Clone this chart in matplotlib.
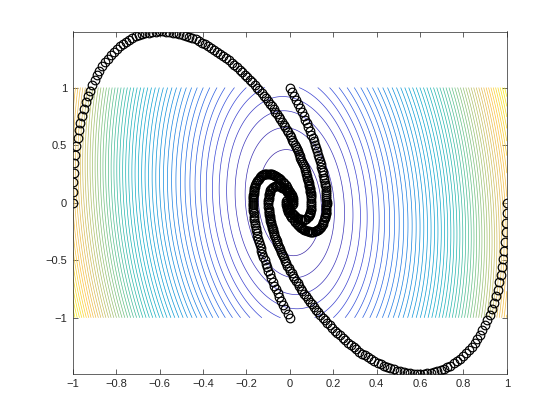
import matplotlib
matplotlib.use('Agg')
import matplotlib.pyplot as plt
import numpy as np
from matplotlib.colors import LinearSegmentedColormap

# quadratic surface drawn as contours (coefficients)
quad_xx = 5.588
quad_xy = 0.4
quad_yy = 0.557
n_levels = 55

# trajectory starting at (-1, 0)
arm_a_x = [
    -1.000, -0.999, -0.998, -0.995, -0.993, -0.988, -0.984, -0.978, -0.972, -0.965,
    -0.958, -0.949, -0.941, -0.931, -0.921, -0.911, -0.900, -0.888, -0.877, -0.864,
    -0.852, -0.839, -0.826, -0.812, -0.798, -0.784, -0.770, -0.755, -0.740, -0.725,
    -0.711, -0.695, -0.680, -0.665, -0.649, -0.633, -0.618, -0.602, -0.587, -0.571,
    -0.556, -0.540, -0.525, -0.509, -0.494, -0.479, -0.464, -0.449, -0.434, -0.419,
    -0.405, -0.390, -0.375, -0.361, -0.348, -0.334, -0.320, -0.307, -0.294, -0.280,
    -0.267, -0.255, -0.243, -0.230, -0.218, -0.207, -0.195, -0.184, -0.172, -0.162,
    -0.151, -0.141, -0.130, -0.121, -0.111, -0.102, -0.092, -0.084, -0.075, -0.067,
    -0.058, -0.051, -0.043, -0.036, -0.028, -0.021, -0.015, -0.008, -0.001, 0.005,
    0.011, 0.016, 0.022, 0.027, 0.032, 0.036, 0.041, 0.045, 0.049, 0.053,
    0.058, 0.061, 0.064, 0.068, 0.071, 0.074, 0.076, 0.079, 0.081, 0.083,
    0.085, 0.087, 0.089, 0.090, 0.092, 0.093, 0.094, 0.095, 0.096, 0.097,
    0.098, 0.099, 0.099, 0.099, 0.099, 0.098, 0.098, 0.096, 0.095, 0.093,
    0.091, 0.089, 0.087, 0.082, 0.076, 0.070, 0.064, 0.058, 0.052, 0.046,
    0.040, 0.034, 0.029, 0.024, 0.019, 0.015, 0.011, 0.003, -0.003, -0.007,
    -0.009, -0.010]
arm_a_y = [
    0.000, 0.089, 0.177, 0.259, 0.341, 0.416, 0.492, 0.561, 0.630, 0.693,
    0.757, 0.814, 0.871, 0.923, 0.974, 1.020, 1.067, 1.108, 1.148, 1.184,
    1.220, 1.251, 1.282, 1.309, 1.335, 1.357, 1.379, 1.397, 1.415, 1.430,
    1.444, 1.454, 1.464, 1.471, 1.478, 1.482, 1.486, 1.487, 1.487, 1.485,
    1.483, 1.478, 1.473, 1.466, 1.459, 1.449, 1.439, 1.428, 1.418, 1.404,
    1.390, 1.376, 1.362, 1.345, 1.328, 1.311, 1.294, 1.275, 1.256, 1.236,
    1.217, 1.196, 1.175, 1.154, 1.133, 1.111, 1.089, 1.067, 1.045, 1.022,
    0.999, 0.976, 0.953, 0.930, 0.907, 0.883, 0.860, 0.837, 0.814, 0.791,
    0.768, 0.746, 0.723, 0.701, 0.678, 0.656, 0.634, 0.612, 0.590, 0.569,
    0.548, 0.526, 0.505, 0.485, 0.465, 0.445, 0.425, 0.406, 0.388, 0.369,
    0.350, 0.333, 0.315, 0.298, 0.280, 0.264, 0.248, 0.232, 0.216, 0.201,
    0.187, 0.172, 0.157, 0.144, 0.131, 0.117, 0.104, 0.092, 0.081, 0.069,
    0.057, 0.037, 0.016, -0.002, -0.020, -0.036, -0.051, -0.064, -0.077, -0.088,
    -0.098, -0.107, -0.115, -0.128, -0.138, -0.144, -0.147, -0.147, -0.146, -0.142,
    -0.138, -0.131, -0.124, -0.116, -0.108, -0.099, -0.090, -0.067, -0.046, -0.027,
    -0.013, 0.007]

# trajectory starting at (0, 1)
arm_b_x = [
    0.000, 0.010, 0.020, 0.030, 0.039, 0.048, 0.056, 0.064, 0.072, 0.079,
    0.086, 0.093, 0.099, 0.105, 0.111, 0.116, 0.122, 0.126, 0.131, 0.135,
    0.139, 0.143, 0.146, 0.149, 0.152, 0.155, 0.157, 0.159, 0.161, 0.163,
    0.165, 0.166, 0.167, 0.168, 0.169, 0.169, 0.169, 0.170, 0.170, 0.169,
    0.169, 0.169, 0.168, 0.167, 0.166, 0.165, 0.164, 0.163, 0.162, 0.159,
    0.155, 0.152, 0.148, 0.143, 0.139, 0.134, 0.129, 0.124, 0.119, 0.114,
    0.109, 0.104, 0.098, 0.093, 0.088, 0.083, 0.077, 0.072, 0.067, 0.062,
    0.058, 0.053, 0.049, 0.044, 0.040, 0.032, 0.025, 0.018, 0.012, 0.007,
    0.002, -0.002, -0.006, -0.009, -0.011, -0.013, -0.016, -0.017, -0.016, -0.012]
arm_b_y = [
    1.000, 0.964, 0.927, 0.892, 0.856, 0.822, 0.787, 0.754, 0.720, 0.688,
    0.655, 0.624, 0.592, 0.562, 0.532, 0.502, 0.473, 0.445, 0.417, 0.391,
    0.364, 0.338, 0.313, 0.288, 0.264, 0.241, 0.218, 0.196, 0.174, 0.154,
    0.133, 0.114, 0.094, 0.076, 0.058, 0.041, 0.024, 0.008, -0.008, -0.023,
    -0.038, -0.051, -0.065, -0.077, -0.090, -0.101, -0.113, -0.123, -0.134, -0.152,
    -0.170, -0.184, -0.198, -0.209, -0.220, -0.228, -0.236, -0.241, -0.246, -0.249,
    -0.251, -0.252, -0.252, -0.251, -0.249, -0.246, -0.243, -0.239, -0.235, -0.229,
    -0.224, -0.218, -0.211, -0.205, -0.198, -0.183, -0.167, -0.152, -0.136, -0.121,
    -0.105, -0.091, -0.077, -0.064, -0.052, -0.041, -0.021, -0.005, 0.015, 0.024]

# trajectory starting at (1, 0)
arm_c_x = [
    1.000, 0.999, 0.998, 0.995, 0.993, 0.988, 0.984, 0.978, 0.972, 0.965,
    0.958, 0.949, 0.941, 0.931, 0.921, 0.911, 0.900, 0.888, 0.877, 0.864,
    0.852, 0.839, 0.826, 0.812, 0.798, 0.784, 0.770, 0.755, 0.740, 0.725,
    0.711, 0.695, 0.680, 0.665, 0.649, 0.633, 0.618, 0.602, 0.587, 0.571,
    0.556, 0.540, 0.525, 0.509, 0.494, 0.479, 0.464, 0.449, 0.434, 0.419,
    0.405, 0.390, 0.375, 0.361, 0.348, 0.334, 0.320, 0.307, 0.294, 0.280,
    0.267, 0.255, 0.243, 0.230, 0.218, 0.207, 0.195, 0.184, 0.172, 0.162,
    0.151, 0.141, 0.130, 0.121, 0.111, 0.102, 0.092, 0.084, 0.075, 0.067,
    0.058, 0.051, 0.043, 0.036, 0.028, 0.021, 0.015, 0.008, 0.001, -0.005,
    -0.011, -0.016, -0.022, -0.027, -0.032, -0.036, -0.041, -0.045, -0.049, -0.053,
    -0.058, -0.061, -0.064, -0.068, -0.071, -0.074, -0.076, -0.079, -0.081, -0.083,
    -0.085, -0.087, -0.089, -0.090, -0.092, -0.093, -0.094, -0.095, -0.096, -0.097,
    -0.098, -0.099, -0.099, -0.099, -0.099, -0.098, -0.098, -0.096, -0.095, -0.093,
    -0.091, -0.089, -0.087, -0.082, -0.076, -0.070, -0.064, -0.058, -0.052, -0.046,
    -0.040, -0.034, -0.029, -0.024, -0.019, -0.015, -0.011, -0.003, 0.003, 0.007,
    0.009, 0.010]
arm_c_y = [
    0.000, -0.089, -0.177, -0.259, -0.341, -0.416, -0.492, -0.561, -0.630, -0.693,
    -0.757, -0.814, -0.871, -0.923, -0.974, -1.020, -1.067, -1.108, -1.148, -1.184,
    -1.220, -1.251, -1.282, -1.309, -1.335, -1.357, -1.379, -1.397, -1.415, -1.430,
    -1.444, -1.454, -1.464, -1.471, -1.478, -1.482, -1.486, -1.487, -1.487, -1.485,
    -1.483, -1.478, -1.473, -1.466, -1.459, -1.449, -1.439, -1.428, -1.418, -1.404,
    -1.390, -1.376, -1.362, -1.345, -1.328, -1.311, -1.294, -1.275, -1.256, -1.236,
    -1.217, -1.196, -1.175, -1.154, -1.133, -1.111, -1.089, -1.067, -1.045, -1.022,
    -0.999, -0.976, -0.953, -0.930, -0.907, -0.883, -0.860, -0.837, -0.814, -0.791,
    -0.768, -0.746, -0.723, -0.701, -0.678, -0.656, -0.634, -0.612, -0.590, -0.569,
    -0.548, -0.526, -0.505, -0.485, -0.465, -0.445, -0.425, -0.406, -0.388, -0.369,
    -0.350, -0.333, -0.315, -0.298, -0.280, -0.264, -0.248, -0.232, -0.216, -0.201,
    -0.187, -0.172, -0.157, -0.144, -0.131, -0.117, -0.104, -0.092, -0.081, -0.069,
    -0.057, -0.037, -0.016, 0.002, 0.020, 0.036, 0.051, 0.064, 0.077, 0.088,
    0.098, 0.107, 0.115, 0.128, 0.138, 0.144, 0.147, 0.147, 0.146, 0.142,
    0.138, 0.131, 0.124, 0.116, 0.108, 0.099, 0.090, 0.067, 0.046, 0.027,
    0.013, -0.007]

# trajectory starting at (0, -1)
arm_d_x = [
    0.000, -0.010, -0.020, -0.030, -0.039, -0.048, -0.056, -0.064, -0.072, -0.079,
    -0.086, -0.093, -0.099, -0.105, -0.111, -0.116, -0.122, -0.126, -0.131, -0.135,
    -0.139, -0.143, -0.146, -0.149, -0.152, -0.155, -0.157, -0.159, -0.161, -0.163,
    -0.165, -0.166, -0.167, -0.168, -0.169, -0.169, -0.169, -0.170, -0.170, -0.169,
    -0.169, -0.169, -0.168, -0.167, -0.166, -0.165, -0.164, -0.163, -0.162, -0.159,
    -0.155, -0.152, -0.148, -0.143, -0.139, -0.134, -0.129, -0.124, -0.119, -0.114,
    -0.109, -0.104, -0.098, -0.093, -0.088, -0.083, -0.077, -0.072, -0.067, -0.062,
    -0.058, -0.053, -0.049, -0.044, -0.040, -0.032, -0.025, -0.018, -0.012, -0.007,
    -0.002, 0.002, 0.006, 0.009, 0.011, 0.013, 0.016, 0.017, 0.016, 0.012]
arm_d_y = [
    -1.000, -0.964, -0.927, -0.892, -0.856, -0.822, -0.787, -0.754, -0.720, -0.688,
    -0.655, -0.624, -0.592, -0.562, -0.532, -0.502, -0.473, -0.445, -0.417, -0.391,
    -0.364, -0.338, -0.313, -0.288, -0.264, -0.241, -0.218, -0.196, -0.174, -0.154,
    -0.133, -0.114, -0.094, -0.076, -0.058, -0.041, -0.024, -0.008, 0.008, 0.023,
    0.038, 0.051, 0.065, 0.077, 0.090, 0.101, 0.113, 0.123, 0.134, 0.152,
    0.170, 0.184, 0.198, 0.209, 0.220, 0.228, 0.236, 0.241, 0.246, 0.249,
    0.251, 0.252, 0.252, 0.251, 0.249, 0.246, 0.243, 0.239, 0.235, 0.229,
    0.224, 0.218, 0.211, 0.205, 0.198, 0.183, 0.167, 0.152, 0.136, 0.121,
    0.105, 0.091, 0.077, 0.064, 0.052, 0.041, 0.021, 0.005, -0.015, -0.024]

x_ticks = [-1, -0.8, -0.6, -0.4, -0.2, 0, 0.2, 0.4, 0.6, 0.8, 1]
x_tick_labels = ['\u22121', '\u22120.8', '\u22120.6', '\u22120.4', '\u22120.2', '0',
                 '0.2', '0.4', '0.6', '0.8', '1']
y_ticks = [-1, -0.5, 0, 0.5, 1]
y_tick_labels = ['\u22121', '\u22120.5', '0', '0.5', '1']

# parula-like colour ramp (indigo -> blue -> teal -> orange -> yellow)
parula = LinearSegmentedColormap.from_list('parula', [
    (0.00, (0.24, 0.15, 0.62)),
    (0.10, (0.23, 0.27, 0.84)),
    (0.20, (0.13, 0.43, 0.90)),
    (0.30, (0.05, 0.56, 0.86)),
    (0.40, (0.03, 0.65, 0.80)),
    (0.50, (0.12, 0.71, 0.68)),
    (0.60, (0.36, 0.75, 0.53)),
    (0.70, (0.64, 0.75, 0.42)),
    (0.80, (0.88, 0.73, 0.32)),
    (0.86, (0.99, 0.75, 0.24)),
    (0.93, (0.97, 0.86, 0.14)),
    (1.00, (0.98, 0.98, 0.05)),
])

plt.rcParams['font.family'] = ['Liberation Sans', 'DejaVu Sans']

fig = plt.figure(figsize=(5.6, 4.2), dpi=100)
ax = fig.add_axes([0.13, 0.11, 0.775, 0.815])

grid = np.linspace(-1, 1, 241)
X, Y = np.meshgrid(grid, grid)
Z = quad_xx * X ** 2 + quad_xy * X * Y + quad_yy * Y ** 2
levels = np.linspace(Z.min(), Z.max(), n_levels + 2)[1:-1]
ax.contour(X, Y, Z, levels=levels, cmap=parula, vmin=Z.min(), vmax=Z.max(),
           linewidths=0.5)

for xs, ys in [(arm_a_x, arm_a_y), (arm_b_x, arm_b_y),
               (arm_c_x, arm_c_y), (arm_d_x, arm_d_y)]:
    ax.plot(xs, ys, linestyle='none', marker='o', markersize=6.2,
            markerfacecolor='none', markeredgecolor='black', markeredgewidth=0.85)

ax.set_xlim(-1, 1)
ax.set_ylim(-1.487, 1.487)
ax.set_xticks(x_ticks)
ax.set_xticklabels(x_tick_labels)
ax.set_yticks(y_ticks)
ax.set_yticklabels(y_tick_labels)
ax.tick_params(direction='in', top=True, right=True, length=3.5, width=0.5,
               labelsize=8, pad=4, colors='#262626')
for s in ax.spines.values():
    s.set_linewidth(0.5)
    s.set_color('#262626')

fig.savefig('out.png', dpi=100)
